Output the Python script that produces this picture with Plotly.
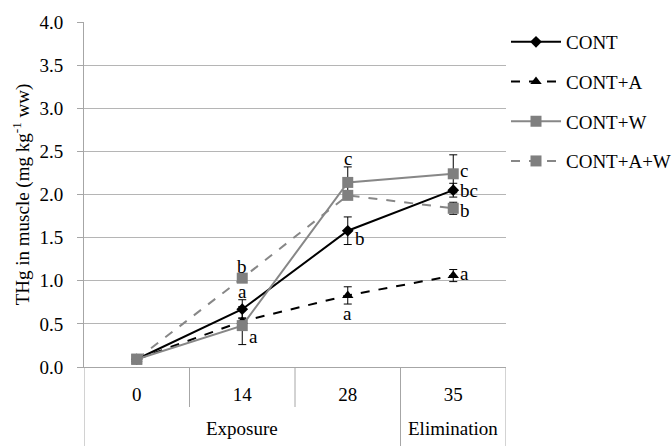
import plotly.graph_objects as go

phase_labels = ["Exposure", "Elimination"]
phase_spans = [(0, 2), (3, 3)]  # first and last category index of each phase
days = ["0", "14", "28", "35"]

series_names = ["CONT", "CONT+A", "CONT+W", "CONT+A+W"]
cont = [0.09, 0.67, 1.58, 2.05]
cont_err = [0.02, 0.11, 0.16, 0.08]
cont_a = [0.09, 0.53, 0.83, 1.06]
cont_a_err = [0.02, 0.04, 0.10, 0.07]
cont_w = [0.09, 0.48, 2.14, 2.24]
cont_w_err = [0.02, 0.22, 0.18, 0.22]
cont_aw = [0.09, 1.03, 1.99, 1.84]
cont_aw_err = [0.02, 0.03, 0.04, 0.07]

# significance letters: (category index, y value, text, position)
letters = [
    (1, 1.17, "b", "above"),
    (1, 0.875, "a", "above"),
    (1, 0.355, "a", "right"),
    (2, 2.42, "c", "above"),
    (2, 1.49, "b", "right"),
    (2, 0.625, "a", "above"),
    (3, 2.275, "c", "right"),
    (3, 2.05, "bc", "right"),
    (3, 1.81, "b", "right"),
    (3, 1.088, "a", "right"),
]

FONT = "Liberation Serif, serif"
FS = 19
GRAY = "#878787"
AX = "#a6a6a6"
W, H = 672, 446
ML, MR, MT, MB = 84, 166, 22, 79
PH = H - MT - MB
PW = W - ML - MR

styles = [
    dict(color="black", dash="solid", symbol="diamond", msize=9, mcolor="black"),
    dict(color="black", dash="dash", symbol="triangle-up", msize=10, mcolor="black"),
    dict(color=GRAY, dash="solid", symbol="square", msize=11, mcolor="#7f7f7f"),
    dict(color=GRAY, dash="dash", symbol="square", msize=11, mcolor="#7f7f7f"),
]
vals = [cont, cont_a, cont_w, cont_aw]
errs = [cont_err, cont_a_err, cont_w_err, cont_aw_err]

fig = go.Figure()
for i, (name, v, e, s) in enumerate(zip(series_names, vals, errs, styles)):
    fig.add_trace(go.Scatter(
        x=list(range(len(days))), y=v, name=name, mode="lines+markers",
        legendgroup=name,
        line=dict(color=s["color"], dash=s["dash"], width=2),
        marker=dict(symbol=s["symbol"], size=s["msize"], color=s["mcolor"]),
        error_y=dict(type="data", array=e, visible=True, color="black",
                     thickness=1, width=4),
    ))

for xi, yv, t, pos in letters:
    if pos == "above":
        fig.add_annotation(x=xi, y=yv, text=t, showarrow=False,
                           xanchor="center", yanchor="middle",
                           font=dict(family=FONT, size=FS, color="black"))
    else:
        fig.add_annotation(x=xi, y=yv, text=t, showarrow=False,
                           xanchor="left", yanchor="middle", xshift=5,
                           font=dict(family=FONT, size=FS, color="black"))

# category table below the plot
y_short = -40 / PH
y_bottom = -MB / PH
shapes = []
n = len(days)
group_edges = set()
for a, b in phase_spans:
    group_edges.add(a - 0.5)
    group_edges.add(b + 0.5)
for k in range(n + 1):
    xb = k - 0.5
    yb = y_bottom if xb in group_edges else y_short
    shapes.append(dict(type="line", xref="x", yref="paper", x0=xb, x1=xb,
                       y0=0, y1=yb, line=dict(color=AX, width=1)))
for lab, (a, b) in zip(phase_labels, phase_spans):
    fig.add_annotation(x=(a + b) / 2, xref="x", y=-61 / PH, yref="paper",
                       text=lab, showarrow=False, xanchor="center",
                       yanchor="middle",
                       font=dict(family=FONT, size=FS, color="black"))

fig.update_layout(
    width=W, height=H,
    margin=dict(l=ML, r=MR, t=MT, b=MB, autoexpand=False),
    paper_bgcolor="white", plot_bgcolor="white",
    font=dict(family=FONT, size=FS, color="black"),
    shapes=shapes,
    showlegend=True,
    legend=dict(x=1.0, y=1.0 - 1 / PH, xanchor="left", yanchor="top",
                font=dict(family=FONT, size=FS, color="black"),
                traceorder="grouped", tracegroupgap=12,
                bgcolor="rgba(0,0,0,0)", itemwidth=50),
    yaxis=dict(range=[0, 4], dtick=0.5, tickformat=".1f",
               automargin=False,
               tickfont=dict(family=FONT, size=FS, color="black"),
               showgrid=True, gridcolor="#b5b5b5", gridwidth=1,
               showline=True, linecolor=AX, linewidth=1,
               ticks="outside", ticklen=6, tickcolor=AX,
               ticklabelstandoff=10,
               zeroline=False,
               title=dict(text="THg in muscle (mg kg<sup>-1</sup> ww)",
                          font=dict(family=FONT, size=FS), standoff=4)),
    xaxis=dict(type="linear", range=[-0.5, n - 0.5],
               tickmode="array", tickvals=list(range(n)), ticktext=days,
               automargin=False,
               tickfont=dict(family=FONT, size=FS, color="black"),
               showgrid=False, showline=True, linecolor=AX, linewidth=1,
               ticks="", ticklabelstandoff=10,
               zeroline=False),
)

fig.write_html(
    "out.html",
    config={"displayModeBar": False},
    post_script="document.body.style.margin='0';document.body.style.overflow='hidden';",
)
